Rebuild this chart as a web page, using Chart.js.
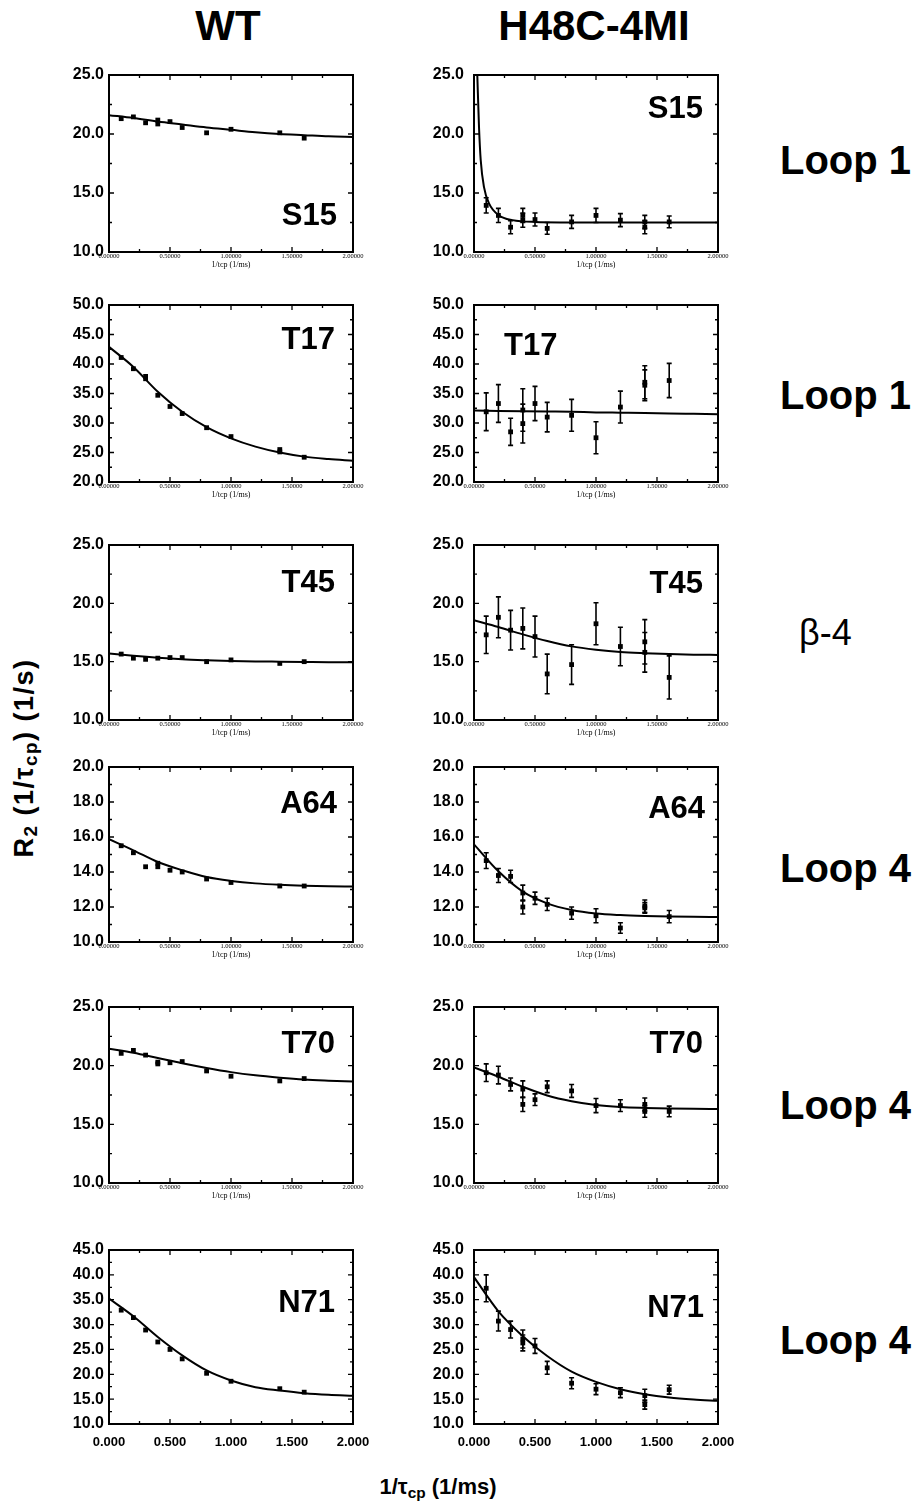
<!DOCTYPE html>
<html>
<head>
<meta charset="utf-8">
<script src="https://cdn.jsdelivr.net/npm/chart.js@4.4.1/dist/chart.umd.min.js"></script>
<style>
  body { margin: 0; background: #fff; width: 917px; height: 1507px; position: relative; overflow: hidden;
         font-family: "Liberation Sans", Arial, Helvetica, sans-serif; color: #000; }
  .panel { position: absolute; }
  .txt { position: absolute; white-space: nowrap; font-weight: bold; line-height: 1; }
  .hdr { font-size: 42px; transform: translateX(-50%); }
  .side { font-size: 40px; left: 780px; }
  sub { font-size: 70%; vertical-align: -0.25em; }
</style>
</head>
<body>
<div class="txt hdr" style="left:228px; top:5px;">WT</div>
<div class="txt hdr" style="left:594px; top:5px;">H48C-4MI</div>

<div class="txt side" style="top:140px;">Loop 1</div>
<div class="txt side" style="top:375px;">Loop 1</div>
<div class="txt side" style="top:615px; left:799px; font-size:36px; font-weight:normal;">β-4</div>
<div class="txt side" style="top:848px;">Loop 4</div>
<div class="txt side" style="top:1085px;">Loop 4</div>
<div class="txt side" style="top:1320px;">Loop 4</div>

<div class="txt" style="left:26px; top:758px; font-size:27px; letter-spacing:1.5px; transform: translate(-50%,-50%) rotate(-90deg);">R<sub>2</sub> (1/τ<sub>cp</sub>) (1/s)</div>
<div class="txt" style="left:438px; top:1488px; font-size:22px; transform: translate(-50%,-50%);">1/τ<sub>cp</sub> (1/ms)</div>

<script>
// ---- data ----
// shared x grid for the fitted curves
const fitX = [0, 0.2, 0.4, 0.6, 0.8, 1.0, 1.2, 1.4, 1.6, 1.8, 2.0];

// WT S15
const wtS15X = [0.1, 0.2, 0.3, 0.4, 0.4, 0.5, 0.6, 0.8, 1.0, 1.4, 1.6];
const wtS15Y = [21.3, 21.45, 20.95, 21.18, 20.85, 21.05, 20.55, 20.1, 20.4, 20.1, 19.65];
const wtS15Fit = [21.6, 21.35, 21.05, 20.8, 20.55, 20.35, 20.15, 20.0, 19.9, 19.8, 19.75];

// H48C-4MI S15
const mS15X = [0.1, 0.2, 0.3, 0.4, 0.4, 0.5, 0.6, 0.8, 1.0, 1.2, 1.4, 1.4, 1.6];
const mS15Y = [13.95, 13.1, 12.1, 13.1, 12.7, 12.75, 12.0, 12.55, 13.1, 12.7, 12.55, 12.1, 12.55];
const mS15Err = [0.65, 0.6, 0.55, 0.6, 0.6, 0.55, 0.5, 0.55, 0.6, 0.55, 0.55, 0.55, 0.5];
const mS15FitX = [0.027, 0.041, 0.055, 0.082, 0.124, 0.206, 0.316, 0.5, 1.0, 2.0];
const mS15Fit = [25.0, 20.6, 17.8, 15.5, 14.1, 13.1, 12.7, 12.55, 12.5, 12.5];

// WT T17
const wtT17X = [0.1, 0.2, 0.3, 0.3, 0.4, 0.5, 0.6, 0.8, 1.0, 1.4, 1.4, 1.6];
const wtT17Y = [41.1, 39.2, 37.9, 37.5, 34.7, 32.8, 31.6, 29.2, 27.7, 25.5, 25.1, 24.2];
const wtT17Fit = [42.9, 39.5, 35.3, 31.9, 29.3, 27.4, 26.0, 25.0, 24.3, 23.9, 23.6];

// H48C-4MI T17
const mT17X = [0.1, 0.2, 0.3, 0.4, 0.4, 0.5, 0.6, 0.8, 1.0, 1.2, 1.4, 1.4, 1.6];
const mT17Y = [31.9, 33.3, 28.5, 32.2, 29.9, 33.3, 31.0, 31.3, 27.5, 32.7, 36.9, 36.4, 37.2];
const mT17Err = [3.2, 3.2, 2.3, 3.6, 3.3, 2.9, 2.5, 2.7, 2.7, 2.7, 2.8, 2.6, 2.9];
const mT17Fit = [32.1, 32.05, 32.0, 31.95, 31.9, 31.8, 31.75, 31.7, 31.6, 31.55, 31.5];

// WT T45
const wtT45X = [0.1, 0.2, 0.3, 0.4, 0.5, 0.6, 0.8, 1.0, 1.4, 1.6];
const wtT45Y = [15.65, 15.3, 15.2, 15.3, 15.35, 15.35, 15.0, 15.15, 14.85, 15.0];
const wtT45Fit = [15.7, 15.5, 15.33, 15.2, 15.12, 15.06, 15.02, 15.0, 14.98, 14.96, 14.95];

// H48C-4MI T45
const mT45X = [0.1, 0.2, 0.3, 0.4, 0.5, 0.6, 0.8, 1.0, 1.2, 1.4, 1.4, 1.6];
const mT45Y = [17.3, 18.8, 17.7, 17.85, 17.15, 13.95, 14.75, 18.25, 16.3, 16.7, 15.8, 13.65];
const mT45Err = [1.6, 1.75, 1.7, 1.75, 1.75, 1.7, 1.7, 1.8, 1.65, 1.9, 1.7, 1.85];
const mT45Fit = [18.55, 17.97, 17.34, 16.77, 16.31, 16.02, 15.82, 15.72, 15.65, 15.6, 15.58];

// WT A64
const wtA64X = [0.1, 0.2, 0.3, 0.4, 0.4, 0.5, 0.6, 0.8, 1.0, 1.4, 1.6];
const wtA64Y = [15.5, 15.1, 14.3, 14.5, 14.3, 14.1, 14.0, 13.6, 13.4, 13.2, 13.2];
const wtA64Fit = [15.87, 15.24, 14.57, 14.1, 13.71, 13.49, 13.35, 13.27, 13.22, 13.19, 13.17];

// H48C-4MI A64
const mA64X = [0.1, 0.2, 0.3, 0.4, 0.4, 0.5, 0.6, 0.8, 1.0, 1.2, 1.4, 1.4, 1.6];
const mA64Y = [14.65, 13.8, 13.75, 12.8, 12.0, 12.5, 12.15, 11.65, 11.5, 10.8, 12.05, 11.95, 11.45];
const mA64Err = [0.45, 0.4, 0.35, 0.45, 0.4, 0.35, 0.35, 0.35, 0.4, 0.3, 0.35, 0.3, 0.35];
const mA64Fit = [15.58, 14.04, 12.88, 12.21, 11.83, 11.63, 11.54, 11.49, 11.46, 11.44, 11.43];

// WT T70
const wtT70X = [0.1, 0.2, 0.3, 0.4, 0.4, 0.5, 0.6, 0.8, 1.0, 1.4, 1.6];
const wtT70Y = [21.05, 21.3, 20.9, 20.3, 20.15, 20.25, 20.35, 19.55, 19.1, 18.7, 18.9];
const wtT70Fit = [21.45, 21.1, 20.65, 20.2, 19.8, 19.45, 19.18, 18.98, 18.82, 18.72, 18.64];

// H48C-4MI T70
const mT70X = [0.1, 0.2, 0.3, 0.4, 0.4, 0.5, 0.6, 0.8, 1.0, 1.2, 1.4, 1.4, 1.6];
const mT70Y = [19.4, 19.2, 18.4, 18.0, 16.7, 17.1, 18.2, 17.85, 16.6, 16.6, 16.7, 16.1, 16.1];
const mT70Err = [0.75, 0.75, 0.55, 0.7, 0.6, 0.5, 0.5, 0.55, 0.6, 0.5, 0.55, 0.5, 0.45];
const mT70Fit = [19.84, 19.06, 18.2, 17.46, 16.97, 16.65, 16.48, 16.4, 16.35, 16.32, 16.31];

// WT N71
const wtN71X = [0.1, 0.2, 0.3, 0.4, 0.5, 0.6, 0.8, 1.0, 1.4, 1.6];
const wtN71Y = [32.9, 31.4, 28.9, 26.5, 25.0, 23.1, 20.2, 18.6, 17.1, 16.4];
const wtN71Fit = [35.24, 31.67, 27.5, 23.8, 20.77, 18.75, 17.4, 16.74, 16.2, 15.86, 15.66];

// H48C-4MI N71
const mN71X = [0.1, 0.2, 0.3, 0.4, 0.4, 0.5, 0.6, 0.8, 1.0, 1.2, 1.4, 1.4, 1.6];
const mN71Y = [37.3, 30.7, 29.0, 27.1, 26.3, 25.7, 21.3, 18.2, 17.0, 16.3, 15.7, 13.9, 16.9];
const mN71Err = [2.7, 2.0, 1.7, 1.8, 1.6, 1.5, 1.3, 1.1, 1.1, 1.0, 1.3, 0.9, 0.9];
const mN71Fit = [39.53, 32.67, 27.67, 23.67, 20.53, 18.47, 17.0, 16.0, 15.33, 14.93, 14.67];

// y axis ranges per row: [min, max, step]
const yRanges = [[10, 25, 5], [20, 50, 5], [10, 25, 5], [10, 20, 2], [10, 25, 5], [10, 45, 5]];
const residues = ['S15', 'T17', 'T45', 'A64', 'T70', 'N71'];

// ---- layout ----
const colLeft = [109, 474];
const plotW = 244;
const rowTop = [75, 305, 545, 767, 1007, 1250];
const rowH = [177, 177, 175, 175, 176, 174];
const Y_AXIS_W = 55, PAD_TOP = 24, PAD_RIGHT = 30;

// row, col, points, fit, label placement
const panels = [
  { r: 0, c: 0, x: wtS15X, y: wtS15Y, fx: fitX, fy: wtS15Fit, lab: { align: 'right', dx: -16, fromBottom: 27 } },
  { r: 0, c: 1, x: mS15X, y: mS15Y, err: mS15Err, fx: mS15FitX, fy: mS15Fit, lab: { align: 'right', dx: -15, fromTop: 43 } },
  { r: 1, c: 0, x: wtT17X, y: wtT17Y, fx: fitX, fy: wtT17Fit, lab: { align: 'right', dx: -18, fromTop: 44 } },
  { r: 1, c: 1, x: mT17X, y: mT17Y, err: mT17Err, fx: fitX, fy: mT17Fit, lab: { align: 'left', dx: 30, fromTop: 50 } },
  { r: 2, c: 0, x: wtT45X, y: wtT45Y, fx: fitX, fy: wtT45Fit, lab: { align: 'right', dx: -18, fromTop: 47 } },
  { r: 2, c: 1, x: mT45X, y: mT45Y, err: mT45Err, fx: fitX, fy: mT45Fit, lab: { align: 'right', dx: -15, fromTop: 48 } },
  { r: 3, c: 0, x: wtA64X, y: wtA64Y, fx: fitX, fy: wtA64Fit, lab: { align: 'right', dx: -16, fromTop: 46 } },
  { r: 3, c: 1, x: mA64X, y: mA64Y, err: mA64Err, fx: fitX, fy: mA64Fit, lab: { align: 'right', dx: -13, fromTop: 51 } },
  { r: 4, c: 0, x: wtT70X, y: wtT70Y, fx: fitX, fy: wtT70Fit, lab: { align: 'right', dx: -18, fromTop: 46 } },
  { r: 4, c: 1, x: mT70X, y: mT70Y, err: mT70Err, fx: fitX, fy: mT70Fit, lab: { align: 'right', dx: -15, fromTop: 46 } },
  { r: 5, c: 0, x: wtN71X, y: wtN71Y, fx: fitX, fy: wtN71Fit, lab: { align: 'right', dx: -18, fromTop: 62 } },
  { r: 5, c: 1, x: mN71X, y: mN71Y, err: mN71Err, fx: fitX, fy: mN71Fit, lab: { align: 'right', dx: -14, fromTop: 67 } },
];

const pairs = (xs, ys) => xs.map((v, i) => ({ x: v, y: ys[i] }));

// error bars
const errorBars = {
  id: 'errorBars',
  afterDatasetsDraw(chart) {
    const { ctx, scales: { y } } = chart;
    chart.data.datasets.forEach((ds, di) => {
      if (!ds.errors) return;
      const meta = chart.getDatasetMeta(di);
      ctx.save();
      ctx.strokeStyle = '#000';
      ctx.lineWidth = 1.6;
      meta.data.forEach((pt, i) => {
        const v = ds.data[i].y, e = ds.errors[i];
        const y1 = y.getPixelForValue(v + e), y2 = y.getPixelForValue(v - e);
        ctx.beginPath();
        ctx.moveTo(pt.x, y1); ctx.lineTo(pt.x, y2);
        ctx.moveTo(pt.x - 2.5, y1); ctx.lineTo(pt.x + 2.5, y1);
        ctx.moveTo(pt.x - 2.5, y2); ctx.lineTo(pt.x + 2.5, y2);
        ctx.stroke();
      });
      ctx.restore();
    });
  }
};

// box frame, inward ticks and residue label
const frame = {
  id: 'frame',
  afterDraw(chart, args, opts) {
    const { ctx, chartArea: a, scales: { x, y } } = chart;
    ctx.save();
    ctx.strokeStyle = '#000';
    ctx.lineWidth = 1.3;
    const MAJ = 5, MIN = 3;
    const xv = x.ticks.map(t => t.value), yv = y.ticks.map(t => t.value);
    ctx.beginPath();
    xv.forEach((v, i) => {
      const p = x.getPixelForValue(v);
      ctx.moveTo(p, a.bottom); ctx.lineTo(p, a.bottom - MAJ);
      ctx.moveTo(p, a.top); ctx.lineTo(p, a.top + MAJ);
      if (i < xv.length - 1) {
        const m = x.getPixelForValue((v + xv[i + 1]) / 2);
        ctx.moveTo(m, a.bottom); ctx.lineTo(m, a.bottom - MIN);
        ctx.moveTo(m, a.top); ctx.lineTo(m, a.top + MIN);
      }
    });
    yv.forEach((v, i) => {
      const p = y.getPixelForValue(v);
      ctx.moveTo(a.left, p); ctx.lineTo(a.left + MAJ, p);
      ctx.moveTo(a.right, p); ctx.lineTo(a.right - MAJ, p);
      if (i < yv.length - 1) {
        const m = y.getPixelForValue((v + yv[i + 1]) / 2);
        ctx.moveTo(a.left, m); ctx.lineTo(a.left + MIN, m);
        ctx.moveTo(a.right, m); ctx.lineTo(a.right - MIN, m);
      }
    });
    ctx.stroke();
    ctx.lineWidth = 2;
    ctx.strokeRect(a.left, a.top, a.right - a.left, a.bottom - a.top);

    const l = opts.lab;
    ctx.fillStyle = '#000';
    ctx.font = 'bold 31px "Liberation Sans", Arial, sans-serif';
    ctx.textAlign = l.align;
    ctx.textBaseline = 'alphabetic';
    const tx = l.align === 'left' ? a.left + l.dx : a.right + l.dx;
    const ty = l.fromTop !== undefined ? a.top + l.fromTop : a.bottom - l.fromBottom;
    ctx.fillText(opts.text, tx, ty);
    ctx.restore();
  }
};

panels.forEach(p => {
  const last = p.r === 5;
  const axisH = last ? 34 : 22;
  const [ymin, ymax, ystep] = yRanges[p.r];
  const div = document.createElement('div');
  div.className = 'panel';
  div.style.left = (colLeft[p.c] - Y_AXIS_W) + 'px';
  div.style.top = (rowTop[p.r] - PAD_TOP) + 'px';
  const cv = document.createElement('canvas');
  cv.width = Y_AXIS_W + plotW + PAD_RIGHT;
  cv.height = PAD_TOP + rowH[p.r] + axisH;
  div.appendChild(cv);
  document.body.appendChild(div);

  const datasets = [
    {
      data: pairs(p.fx, p.fy), showLine: true, pointRadius: 0, borderColor: '#000',
      borderWidth: 2, cubicInterpolationMode: 'monotone', fill: false
    },
    {
      data: pairs(p.x, p.y), errors: p.err, showLine: false, pointStyle: 'rect', pointRadius: 3.4,
      backgroundColor: '#000', borderColor: '#000', borderWidth: 0
    }
  ];

  new Chart(cv, {
    type: 'scatter',
    data: { datasets },
    options: {
      responsive: false, animation: false, devicePixelRatio: 1,
      layout: { padding: { top: PAD_TOP, right: PAD_RIGHT, left: 0, bottom: 0 } },
      plugins: { legend: { display: false }, tooltip: { enabled: false },
                 frame: { text: residues[p.r], lab: p.lab } },
      scales: {
        x: {
          type: 'linear', min: 0, max: 2,
          grid: { display: false, drawTicks: false }, border: { display: false },
          ticks: {
            stepSize: 0.5, autoSkip: false, maxRotation: 0, color: '#000',
            padding: last ? 11 : 0,
            font: last ? { family: '"Liberation Sans", Arial, sans-serif', size: 13, weight: 'bold' }
                       : { family: '"Liberation Serif", "Times New Roman", serif', size: 6.5 },
            callback: v => v.toFixed(last ? 3 : 5)
          },
          title: {
            display: !last, text: '1/tcp (1/ms)', color: '#000', padding: { top: 0, bottom: 4 },
            font: { family: '"Liberation Serif", "Times New Roman", serif', size: 8 }
          },
          afterFit: s => { s.height = axisH; }
        },
        y: {
          min: ymin, max: ymax,
          grid: { display: false, drawTicks: false }, border: { display: false },
          ticks: {
            stepSize: ystep, color: '#000', padding: p.c === 0 ? 5 : 10,
            font: { family: '"Liberation Sans", Arial, sans-serif', size: 16, weight: 'bold' },
            callback: v => v.toFixed(1)
          },
          afterFit: s => { s.width = Y_AXIS_W; }
        }
      }
    },
    plugins: [errorBars, frame]
  });
});
</script>
</body>
</html>
